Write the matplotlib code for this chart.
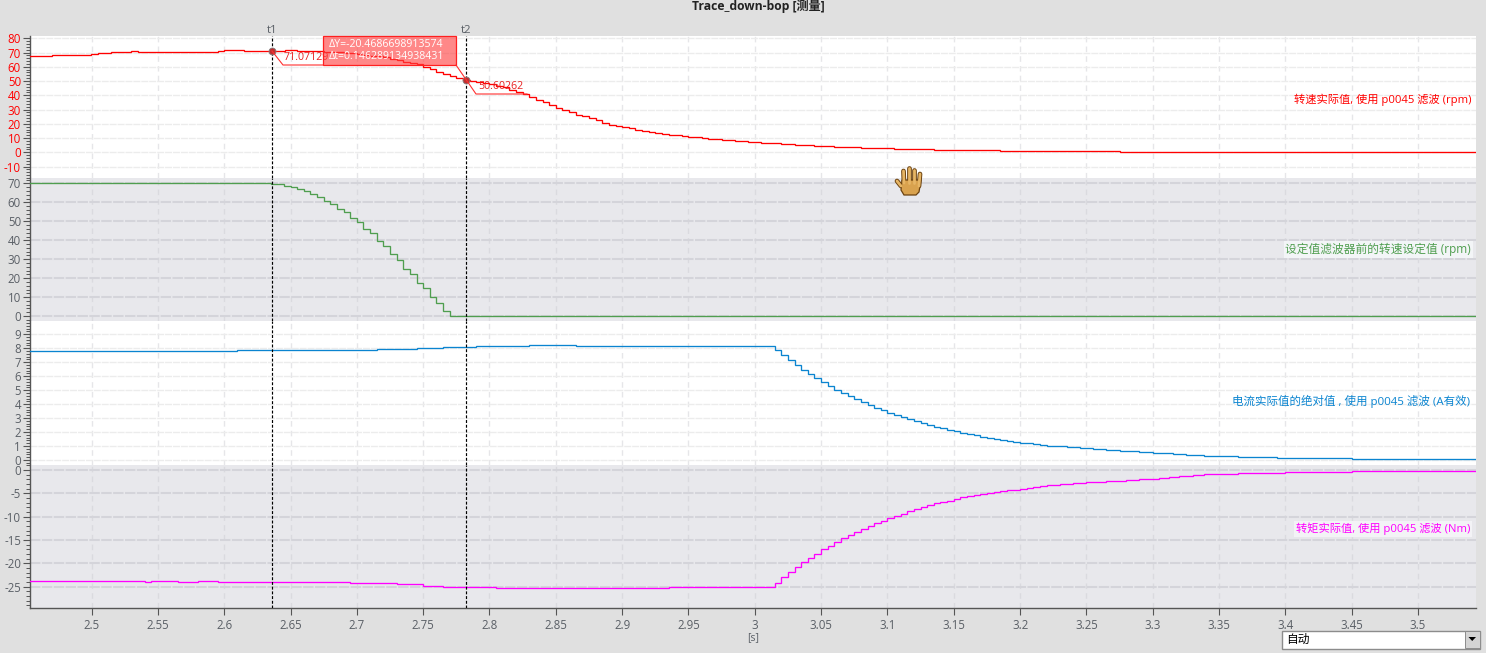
import matplotlib
matplotlib.use("Agg")
import matplotlib.pyplot as plt
from matplotlib.patches import Rectangle, Polygon
from matplotlib.ticker import MultipleLocator, FixedLocator, FuncFormatter

plt.rcParams['font.family'] = ['Open Sans', 'Noto Sans CJK SC', 'DejaVu Sans']

T_START, T_END = 2.4536, 3.5437

# --- speed actual value (rpm): step start times and values
speed_t = [T_START, 2.4705, 2.4996, 2.505, 2.515, 2.53, 2.535, 2.595, 2.6, 2.615, 2.646, 2.655,
           2.675, 2.69, 2.70, 2.705, 2.71, 2.72, 2.725, 2.73, 2.735, 2.74, 2.745, 2.75, 2.755,
           2.76, 2.765, 2.77, 2.775, 2.78, 2.785, 2.79, 2.795, 2.80, 2.805, 2.81, 2.815, 2.82,
           2.825, 2.83, 2.835, 2.84, 2.845, 2.85, 2.855, 2.86, 2.865, 2.87, 2.875, 2.88, 2.885,
           2.89, 2.895, 2.90, 2.905, 2.91, 2.915, 2.92, 2.925, 2.93, 2.935, 2.945, 2.95, 2.96,
           2.965, 2.975, 2.985, 2.995, 3.005, 3.02, 3.03, 3.045, 3.06, 3.08, 3.105, 3.135,
           3.185, 3.275, T_END]
speed_v = [67.4, 68.07, 68.8, 69.5, 70.2, 70.9, 70.2, 70.9, 71.6, 70.9, 71.6, 70.9,
           70.2, 69.5, 68.8, 68.1, 67.4, 66.7, 65.5, 64.5, 63.6, 62.9, 62.0, 59.9, 58.5,
           56.1, 55.0, 53.5, 52.1, 50.7, 50.0, 49.3, 48.4, 47.9, 46.5, 45.6, 43.7, 42.3,
           40.7, 38.6, 36.5, 35.1, 33.0, 30.9, 29.5, 28.0, 26.0, 25.3, 23.9, 22.5, 20.3,
           19.0, 18.2, 17.5, 16.8, 15.4, 14.7, 14.0, 13.3, 12.6, 11.9, 11.2, 10.5,
           9.8, 9.1, 8.4, 7.7, 7.0, 6.3, 5.6, 4.9, 4.2, 3.5, 2.8, 2.1,
           1.4, 0.8, 0.2]

# --- speed setpoint before the setpoint filter (rpm)
setp_t = [T_START, 2.635, 2.645, 2.65, 2.655, 2.66, 2.665, 2.67, 2.675, 2.68, 2.685, 2.69, 2.695,
          2.70, 2.705, 2.71, 2.715, 2.72, 2.725, 2.73, 2.735, 2.74, 2.745, 2.75, 2.755, 2.76,
          2.765, 2.77, 2.775, T_END]
setp_v = [70.08, 69.55, 68.5, 67.97, 66.9, 65.9, 64.3, 62.7, 60.6, 59.0, 56.4, 54.8, 51.6,
          49.5, 45.8, 43.6, 39.4, 36.8, 32.6, 29.4, 24.7, 22.0, 17.3, 14.6, 9.9, 6.7,
          2.5, 0.3, 0.0]

# --- absolute current actual value (A rms)
curr_t = [T_START, 2.61, 2.715, 2.745, 2.765, 2.79, 2.83, 2.865,
          3.015, 3.02, 3.025, 3.03, 3.035, 3.04, 3.045, 3.05, 3.055, 3.06, 3.065, 3.07, 3.075,
          3.08, 3.085, 3.09, 3.095, 3.10, 3.105, 3.11, 3.115, 3.12, 3.125, 3.13, 3.135, 3.14,
          3.145, 3.15, 3.155, 3.16, 3.165, 3.17, 3.175, 3.18, 3.185, 3.19, 3.195, 3.20,
          3.21, 3.215, 3.22, 3.235, 3.245, 3.255, 3.265, 3.275, 3.29, 3.30, 3.315, 3.325, 3.339,
          3.364, 3.394, 3.45, T_END]
curr_v = [7.78, 7.85, 7.92, 8.0, 8.07, 8.14, 8.21, 8.14,
          7.85, 7.49, 7.13, 6.78, 6.42, 6.13, 5.85, 5.56, 5.27, 4.99, 4.77, 4.56, 4.34,
          4.13, 3.91, 3.70, 3.56, 3.34, 3.20, 3.05, 2.91, 2.77, 2.62, 2.48, 2.34, 2.27,
          2.12, 2.05, 1.91, 1.84, 1.77, 1.62, 1.55, 1.48, 1.41, 1.34, 1.26, 1.19,
          1.12, 1.05, 0.98, 0.91, 0.84, 0.77, 0.70, 0.63, 0.56, 0.48, 0.41, 0.33,
          0.26, 0.19, 0.12, 0.05]

# --- torque actual value (Nm)
torq_t = [T_START, 2.54, 2.545, 2.565, 2.58, 2.595, 2.695, 2.73, 2.75, 2.765, 2.785, 2.805, 2.935,
          3.015, 3.02, 3.025, 3.03, 3.035, 3.04, 3.045, 3.05, 3.055, 3.06, 3.065, 3.07, 3.075,
          3.08, 3.085, 3.09, 3.095, 3.10, 3.105, 3.11, 3.115, 3.12, 3.125, 3.13, 3.135, 3.14,
          3.145, 3.15, 3.155, 3.16, 3.165, 3.17, 3.175, 3.18, 3.185, 3.19, 3.195, 3.20,
          3.205, 3.21, 3.215, 3.22, 3.23, 3.24, 3.25, 3.265, 3.28, 3.29, 3.305, 3.312, 3.32, 3.33,
          3.339, 3.364, 3.40, 3.45, T_END]
torq_v = [-23.8, -24.05, -23.8, -24.05, -23.8, -24.05, -24.3, -24.55, -24.8, -25.0, -25.1, -25.35, -25.1,
          -24.27, -22.98, -21.9, -20.84, -19.77, -18.9, -18.06, -16.99, -16.35, -15.49, -14.63, -13.99, -13.35,
          -12.71, -12.06, -11.42, -10.99, -10.35, -9.85, -9.42, -8.85, -8.42, -7.99, -7.57, -7.14, -6.92,
          -6.71, -6.28, -5.85, -5.57, -5.35, -5.14, -4.93, -4.71, -4.5, -4.28, -4.2, -4.07,
          -3.86, -3.64, -3.43, -3.21, -3.0, -2.79, -2.57, -2.36, -2.14, -1.93, -1.71, -1.5, -1.28,
          -1.14, -0.92, -0.71, -0.5, -0.28]

x_ticks = [2.5, 2.55, 2.6, 2.65, 2.7, 2.75, 2.8, 2.85, 2.9, 2.95, 3.0, 3.05, 3.1, 3.15, 3.2,
           3.25, 3.3, 3.35, 3.4, 3.45, 3.5]
x_labels = ['2.5', '2.55', '2.6', '2.65', '2.7', '2.75', '2.8', '2.85', '2.9', '2.95', '3',
            '3.05', '3.1', '3.15', '3.2', '3.25', '3.3', '3.35', '3.4', '3.45', '3.5']

t1, t2 = 2.6362, 2.782
y1, y2 = 71.07129, 50.60262
title = 'Trace_down-bop [测量]'
label_speed = '转速实际值, 使用 p0045 滤波 (rpm)'
label_setp = '设定值滤波器前的转速设定值 (rpm)'
label_curr = '电流实际值的绝对值 , 使用 p0045 滤波 (A有效)'
label_torq = '转矩实际值, 使用 p0045 滤波 (Nm)'
box_lines = 'ΔY=-20.4686698913574\nΔt=0.146289134938431'

W, H = 1486, 653
BG = '#e0e0e0'
fig = plt.figure(figsize=(W / 100, H / 100), dpi=100, facecolor=BG)
L, R = 30, 1476


def make_ax(top, bottom):
    return fig.add_axes([L / W, 1 - bottom / H, (R - L) / W, (bottom - top) / H])


panels = [
    (36, 178, (-18.0, 81.6), 10, 2, range(-10, 81, 10), '#ff0000', '#ffffff', speed_t, speed_v, '#ff0000'),
    (178, 321, (-2.6, 72.9), 10, 2, range(0, 71, 10), '#5a5f66', '#e8e8ec', setp_t, setp_v, '#4f9e4f'),
    (321, 465, (-0.36, 9.95), 1, 0.2, range(0, 10), '#5a5f66', '#ffffff', curr_t, curr_v, '#0a84d0'),
    (465, 608, (-29.6, 1.07), 5, 1, range(-25, 1, 5), '#5a5f66', '#e8e8ec', torq_t, torq_v, '#ff00ff'),
]
axes = []
for i, (top, bot, ylim, maj, mnr, ticks, tcol, bg, xs, ys, col) in enumerate(panels):
    ax = make_ax(top, bot)
    axes.append(ax)
    ax.set_facecolor(bg)
    ax.set_xlim(T_START, T_END)
    ax.set_ylim(*ylim)
    ax.yaxis.set_major_locator(FixedLocator(list(ticks)))
    ax.yaxis.set_minor_locator(MultipleLocator(mnr))
    ax.yaxis.set_major_formatter(FuncFormatter(lambda v, p: f'{v:g}'))
    ax.set_xticks(x_ticks)
    ax.tick_params(axis='y', which='major', length=5, width=0.8, color='#555555',
                   labelcolor=tcol, labelsize=8.3, pad=1.5)
    ax.tick_params(axis='y', which='minor', length=3, width=0.7, color='#555555')
    for s in ['top', 'right']:
        ax.spines[s].set_visible(False)
    ax.spines['left'].set_color('#555555')
    ax.spines['left'].set_linewidth(1.0)
    if i == 3:
        ax.set_xticklabels(x_labels)
        ax.tick_params(axis='x', length=5, width=0.8, color='#555555',
                       labelcolor='#5a5f66', labelsize=8.3, pad=3)
        ax.spines['bottom'].set_color('#555555')
        ax.spines['bottom'].set_linewidth(1.0)
        ax.set_xlabel('[s]', fontsize=7.5, color='#5a5f66', labelpad=0)
    else:
        ax.tick_params(axis='x', length=0, labelbottom=False)
        ax.spines['bottom'].set_visible(False)
    hcol = '#ececec' if bg == '#ffffff' else '#d4d4da'
    hlw = 1.0 if bg == '#ffffff' else 1.5
    ax.grid(True, axis='y', which='major', color=hcol, lw=hlw, ls=(0, (5, 0.7)), zorder=0)
    ax.grid(True, axis='x', which='major', color='#e6e6e9' if bg == '#ffffff' else '#dadadf',
            lw=1.0, ls=(0, (4, 3)), zorder=0)
    ax.set_axisbelow(True)
    ax.plot(xs, ys + [ys[-1]], drawstyle='steps-post', color=col, lw=0.95, zorder=3,
            solid_joinstyle='miter', clip_on=True)
    ax.axvline(t1, color='black', lw=0.85, ls=(0, (2.5, 1.5)), zorder=4)
    ax.axvline(t2, color='black', lw=0.85, ls=(0, (2.5, 1.5)), zorder=4)

ax1 = axes[0]
ax1.plot([t1, t2], [y1, y2], ls='none', marker='o', ms=5.0, mfc='#c03030', mec='#808080',
         mew=0.6, zorder=6, clip_on=False)
for t, name in [(t1, 't1'), (t2, 't2')]:
    ax1.annotate(name, xy=(t, 1), xycoords=ax1.get_xaxis_transform(), xytext=(0, 0),
                 textcoords='offset points', ha='center', va='bottom', fontsize=8.2, color='#5a5f66')

# overlay in pixel coordinates for chrome and callouts
ov = fig.add_axes([0, 0, 1, 1], facecolor='none')
ov.set_xlim(0, W)
ov.set_ylim(H, 0)
ov.axis('off')

ov.text(758.5, 6, title, ha='center', va='center', fontsize=8.7, fontweight='bold', color='#222222')

# series labels
ov.text(1471, 100, label_speed, color='#ff0000', ha='right', va='center', fontsize=8.1)
ov.text(1471, 249.5, label_setp, color='#4f9e4f', ha='right', va='center', fontsize=8.45,
        bbox=dict(fc='#f3f5f7', ec='none', pad=1.2))
ov.text(1470, 401, label_curr, color='#0a84d0', ha='right', va='center', fontsize=8.27)
ov.text(1470, 529, label_torq, color='#ff00ff', ha='right', va='center', fontsize=8.1,
        bbox=dict(fc='#f3f3f6', ec='none', pad=1.2))

# callouts
ov.plot([272, 283, 323], [51, 65, 65], color='#ff3030', lw=0.8, zorder=5)
ov.plot([456, 476, 527], [65, 94, 94], color='#ff3030', lw=0.8, zorder=5)
ov.text(284, 58, '71.07129', fontsize=7.7, color='#e82020', va='center', ha='left', zorder=6)
ov.text(478, 86.5, '50.60262', fontsize=7.7, color='#e82020', va='center', ha='left', zorder=6)
ov.add_patch(Rectangle((323, 36), 133, 29, fc=(1, 0.25, 0.25, 0.62), ec='#ff2020', lw=0.9, zorder=7))
ov.text(329, 50.5, box_lines, fontsize=7.6, color='white', va='center', ha='left',
        linespacing=1.2, zorder=8)

# hand cursor
fingers = [([901, 897], [186, 181]), ([904, 903.5], [183, 171]), ([909, 909], [183, 168]),
           ([914, 914], [183, 170]), ([919, 920], [186, 174])]
for xs_, ys_ in fingers:
    ov.plot(xs_, ys_, color='#6b4210', lw=3.4, solid_capstyle='round', zorder=9)
ov.add_patch(Polygon([[902, 180], [921, 180], [919, 192], [916, 195], [904, 195], [901, 190]],
                     closed=True, fc='#d9a24e', ec='#6b4210', lw=0.9, zorder=9))
for xs_, ys_ in fingers:
    ov.plot(xs_, ys_, color='#e6b565', lw=2.0, solid_capstyle='round', zorder=10)

# dropdown
ov.add_patch(Rectangle((1281.5, 630.5), 198, 18, fc='white', ec='#8c8c8c', lw=1.0, zorder=5))
ov.add_patch(Rectangle((1465, 631), 14.5, 17, fc='#d4d4d4', ec='#8c8c8c', lw=0.7, zorder=6))
ov.add_patch(Polygon([[1468.5, 637], [1476, 637], [1472.2, 641]], closed=True, fc='black', ec='none', zorder=7))
ov.text(1286, 639.5, '自动', fontsize=8.5, color='black', va='center', ha='left', zorder=7)

fig.savefig('out.png', dpi=100, facecolor=BG)
